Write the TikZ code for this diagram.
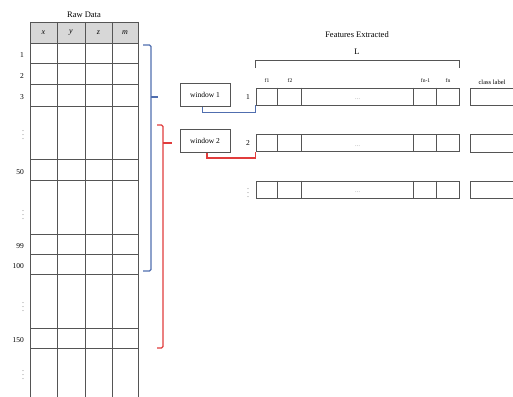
\documentclass[tikz,border=0pt]{standalone}
\usepackage{fontspec}
\setmainfont{Liberation Serif}
\definecolor{bbl}{RGB}{80,110,175}
\definecolor{rrd}{RGB}{225,60,60}
\definecolor{gline}{RGB}{85,85,85}
\definecolor{hdr}{RGB}{215,215,215}
\begin{document}
\begin{tikzpicture}[x=1pt,y=-1pt,
  grid/.style={draw=gline,line width=0.9pt},
  ttl/.style={font=\fontsize{8.5}{9}\selectfont, inner sep=0pt},
  rowlbl/.style={font=\fontsize{7.5}{8}\selectfont, inner sep=0pt, anchor=east},
  vdt/.style={font=\fontsize{6}{6}\selectfont, inner sep=0pt, anchor=east},
  hcell/.style={font=\fontsize{8}{8}\selectfont\itshape, inner sep=0pt},
  winbox/.style={draw=gline, line width=1pt, minimum width=50pt, minimum height=23pt, inner sep=0pt, font=\fontsize{7.5}{8}\selectfont},
  featbox/.style={draw=gline, line width=0.8pt, minimum width=203pt, minimum height=17pt, inner sep=0pt},
  flbl/.style={font=\fontsize{5.5}{6}\selectfont, inner sep=0pt},
  dots/.style={font=\fontsize{5}{5}\selectfont, inner sep=0pt, text=gline},
  bluel/.style={draw=bbl, line width=1.2pt},
  redl/.style={draw=rrd, line width=1.2pt},
]
\useasboundingbox (0,0) rectangle (513,396);

% ---------- Raw data table ----------
\node[ttl] (rawtitle) at (84,15) {Raw Data};
\fill[hdr] (30,22) rectangle (138,43);
\foreach \x in {30,57,85,112,138} \draw[grid] (\x,22) -- (\x,397);
\foreach \y in {22,43,63,84,106,159,180,234,254,274,328,348} \draw[grid] (30,\y) -- (138,\y);
\node[hcell] (hx) at (43.5,33) {x};
\node[hcell] (hy) at (71,33) {y};
\node[hcell] (hz) at (98.5,33) {z};
\node[hcell] (hm) at (125,33) {m};

\node[rowlbl] (l1)   at (24,55)  {1};
\node[rowlbl] (l2)   at (24,76)  {2};
\node[rowlbl] (l3)   at (24,97)  {3};
\node[vdt]    (d1)   at (24,132) {$\vdots$};
\node[rowlbl] (l50)  at (24,172) {50};
\node[vdt]    (d2)   at (24,212) {$\vdots$};
\node[rowlbl] (l99)  at (24,246) {99};
\node[rowlbl] (l100) at (24,266) {100};
\node[vdt]    (d3)   at (24,304) {$\vdots$};
\node[rowlbl] (l150) at (24,340) {150};
\node[vdt]    (d4)   at (24,372) {$\vdots$};

% ---------- windows ----------
\node[winbox] (win1) at (205,95)  {window 1};
\node[winbox] (win2) at (205,141) {window 2};

% brackets
\coordinate (bt1) at (158,97);
\coordinate (bt2) at (172,143);
\draw[bluel, rounded corners=1.5pt] (143,45) -- (151,45) -- (151,271) -- (143,271);
\draw[bluel] (151,97) -- (bt1);
\draw[redl, rounded corners=1.5pt] (157,125) -- (163,125) -- (163,348) -- (157,348);
\draw[redl] (163,143) -- (bt2);

% ---------- features ----------
\node[ttl] (ftitle) at (357,35) {Features Extracted};
\node[ttl] (L) at (357,52) {L};
\draw[gline, line width=0.8pt] (255,68) -- (255,60) -- (459,60) -- (459,68);

\node[featbox] (r1) at (357.5,96.5) {};
\node[featbox] (r2) at (357.5,143) {};
\node[featbox] (r3) at (357.5,189.5) {};
\foreach \r in {r1,r2,r3}{
  \foreach \dx in {22,46,158,181}
    \draw[gline, line width=0.8pt] ([xshift=\dx pt]\r.north west) -- ([xshift=\dx pt]\r.south west);
  \node[dots] at ([yshift=-3pt]\r.center) {\dots};
}
\draw[gline, line width=0.8pt] (514,88) -| (470,105) -- (514,105);
\draw[gline, line width=0.8pt] (514,134) -| (470,152) -- (514,152);
\draw[gline, line width=0.8pt] (514,181) -| (470,198) -- (514,198);

\node[flbl] (f1) at (267,81) {f1};
\node[flbl] (f2) at (290,81) {f2};
\node[flbl] (fn1) at (425.5,81) {fn-1};
\node[flbl] (fn) at (448,81) {fn};
\node[font=\fontsize{6.5}{7}\selectfont, inner sep=0pt] (cl) at (492,82) {class label};

\node[rowlbl, anchor=center] (n1) at (248,97) {1};
\node[rowlbl, anchor=center] (n2) at (248,143) {2};
\node[vdt, anchor=center] (n3) at (248,190) {$\vdots$};

% connectors window -> feature row
\draw[bluel, line width=0.9pt] ([xshift=-3pt]win1.south) -- ++(0,5) -| (r1.south west);
\draw[redl, line width=1.4pt] ([xshift=2pt]win2.south) -- ++(0,5) -| (r2.south west);
\end{tikzpicture}
\end{document}
